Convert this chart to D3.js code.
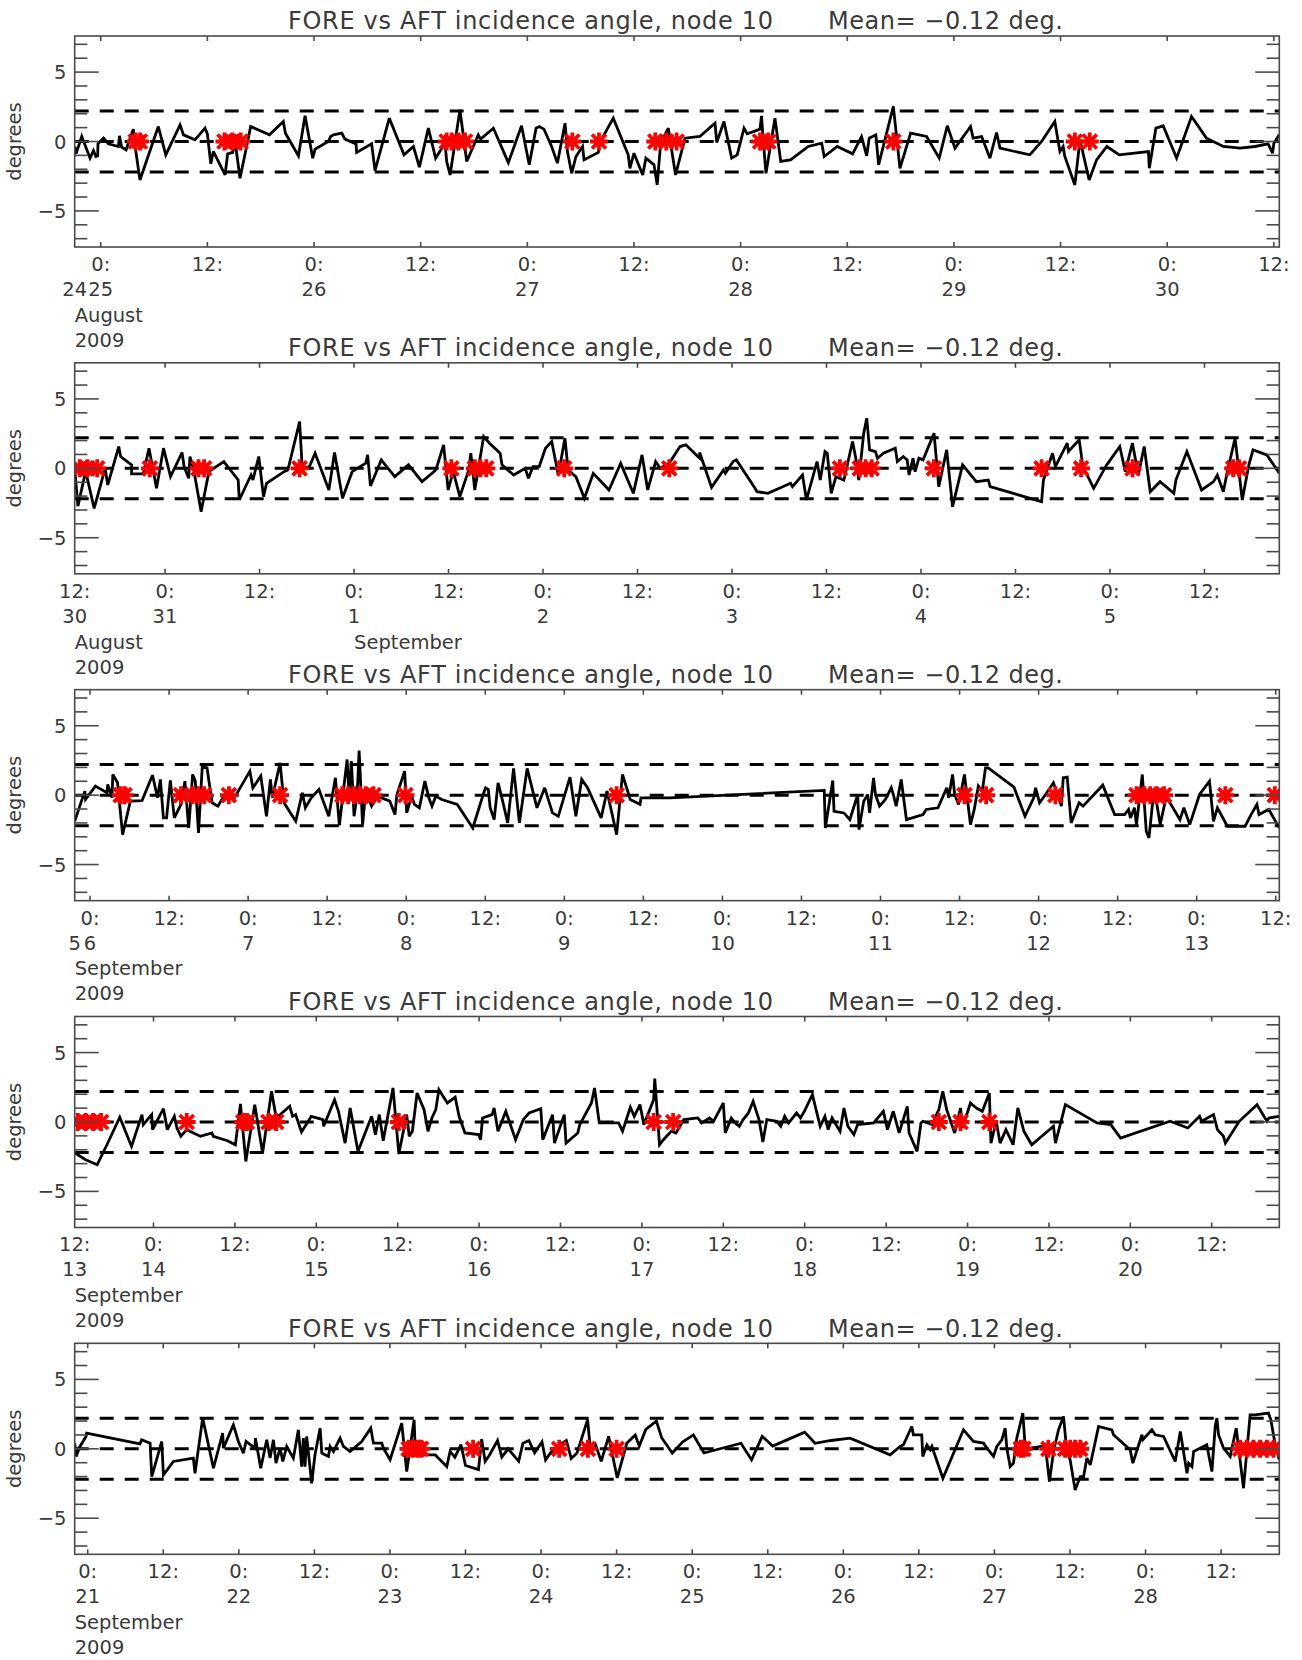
<!DOCTYPE html>
<html><head><meta charset="utf-8">
<script src="https://cdn.jsdelivr.net/npm/d3@7"></script>
<style>body{margin:0;background:#fff}svg{display:block}</style>
</head><body><svg id="c" width="1302" height="1660"></svg>
<script>
// ---------------- DATA ----------------
const titleText = "FORE vs AFT incidence angle, node 10";
const meanText = "Mean= \u22120.12 deg.";
const yLabel = "degrees";
const yDomain = [-7.6, 7.6];
const yMajorTicks = [-5, 0, 5];
const yMinorTicks = [-7, -6, -4, -3, -2, -1, 1, 2, 3, 4, 6, 7];
const limitLines = [-2.2, 0, 2.2];
// time axis: decimal day number, day 1 = 1 Aug 2009 00:00 UTC (31 = 31 Aug, 32 = 1 Sep)
const panelRanges = [[24.878, 30.5255], [30.522, 36.896], [36.903, 44.5225], [44.516, 51.915], [51.914, 59.885]];
const leftHourLabels = [null, "12:", null, "12:", null];
const leftDayLabels = ["24", "30", "5", "13", null];
const monthLabels = [[["August", null]], [["August", null], ["September", 32]], [["September", null]], [["September", null]], [["September", null]]];
const yearLabel = "2009";

const lineP1 = [[24.878,-0.36],[24.884,-0.89],[24.911,0.36],[24.950,-1.20],[24.966,-0.65],[24.977,-1.08],[24.986,-1.03],[24.987,-0.17],[25.013,0.24],[25.036,-0.17],[25.083,-0.36],[25.088,0.41],[25.098,-0.41],[25.119,-0.60],[25.153,0.89],[25.158,0],[25.184,-2.77],[25.270,1.08],[25.305,-0.96],[25.372,1.20],[25.388,0.48],[25.442,0.12],[25.489,0.96],[25.500,0.55],[25.516,-1.61],[25.528,-0.72],[25.583,-2.41],[25.595,-0.89],[25.619,-0.79],[25.630,0],[25.653,-2.65],[25.684,-0.36],[25.703,1.08],[25.791,0.48],[25.856,1.44],[25.866,0.60],[25.927,-1.03],[25.958,1.85],[25.994,-1.20],[26.005,-0.55],[26.067,0],[26.078,0.36],[26.091,0.48],[26.130,0.60],[26.145,0.17],[26.197,-0.17],[26.200,-0.79],[26.270,-0.17],[26.286,-2.09],[26.353,1.68],[26.422,-0.96],[26.466,-0.36],[26.494,-1.85],[26.536,0.96],[26.570,-1.20],[26.614,-0.12],[26.622,-1.44],[26.638,-2.41],[26.684,2.29],[26.716,-1.44],[26.770,0.48],[26.781,0.17],[26.841,0.96],[26.911,-1.52],[26.973,1.13],[27.009,-1.68],[27.041,0.96],[27.056,1.08],[27.078,0.89],[27.114,-0.36],[27.141,-1.56],[27.177,1.32],[27.188,-0.72],[27.208,-2.29],[27.228,-1.08],[27.259,-0.36],[27.266,-1.32],[27.333,-0.79],[27.338,-0.12],[27.403,1.68],[27.473,-0.96],[27.481,-1.93],[27.500,-0.84],[27.541,-2.41],[27.556,-1.20],[27.594,-1.68],[27.609,-3.13],[27.625,-0.12],[27.661,0.96],[27.695,-2.41],[27.739,0.24],[27.809,0.36],[27.880,1.32],[27.888,-0.07],[27.922,1.44],[27.958,-1.20],[27.984,-0.96],[28.016,0.96],[28.031,0.55],[28.091,0.89],[28.098,1.85],[28.106,0.07],[28.119,-2.29],[28.161,1.68],[28.188,-1.44],[28.234,-1.32],[28.317,-0.36],[28.380,-0.12],[28.392,-1.08],[28.453,-0.36],[28.525,-0.89],[28.567,0.36],[28.591,-1.03],[28.603,0.24],[28.634,0.48],[28.647,-1.68],[28.716,2.53],[28.747,-1.93],[28.797,0.60],[28.872,0.36],[28.931,-1.20],[28.969,1.13],[29.005,-0.48],[29.078,1.08],[29.090,0.24],[29.130,0.36],[29.169,-1.20],[29.200,0.65],[29.216,-0.48],[29.286,-0.72],[29.356,-0.96],[29.411,0],[29.473,1.44],[29.497,-0.72],[29.512,-0.36],[29.520,-1.08],[29.567,-3.13],[29.591,0.12],[29.634,-2.77],[29.669,-1.32],[29.717,-0.36],[29.775,-0.96],[29.912,-0.72],[29.916,-1.93],[29.947,0.96],[29.981,1.13],[30.044,-1.20],[30.114,1.80],[30.184,0.24],[30.263,-0.36],[30.341,-0.48],[30.411,-0.36],[30.473,-0.17],[30.494,-0.84],[30.500,-0.12],[30.525,0.48]];
const flagsP1 = [25.164,25.184,25.580,25.617,25.656,26.622,26.645,26.677,26.708,27.211,27.336,27.600,27.651,27.700,28.091,28.130,28.716,29.567,29.637];

const lineP2 = [[30.522,0],[30.539,-2.72],[30.580,-0.2],[30.625,-2.89],[30.683,0],[30.697,-1.2],[30.755,1.57],[30.765,0.85],[30.823,0.25],[30.823,-0.4],[30.885,-0.4],[30.915,1.45],[30.955,-1.44],[30.992,1.45],[31.029,-0.6],[31.09,1.14],[31.101,0.13],[31.125,-0.72],[31.132,0.85],[31.152,-0.12],[31.191,-3.12],[31.232,-0.24],[31.311,0.49],[31.387,-0.84],[31.393,-2.28],[31.455,-0.48],[31.465,-0.84],[31.496,0.85],[31.521,-2.04],[31.537,-1.08],[31.630,-0.24],[31.650,-0.12],[31.712,3.37],[31.726,0],[31.764,0.13],[31.794,1.09],[31.867,-1.56],[31.897,1.14],[31.939,-2.16],[31.990,-0.24],[32.062,0.37],[32.072,0.97],[32.087,-1.27],[32.144,0.61],[32.216,-0.6],[32.288,0.25],[32.360,-0.96],[32.433,-0.12],[32.474,1.69],[32.498,-1.56],[32.525,-0.24],[32.560,-2.04],[32.607,-0.12],[32.618,1.09],[32.639,-1.56],[32.686,2.29],[32.717,1.81],[32.773,1.09],[32.783,0.25],[32.845,-0.48],[32.906,0],[32.923,-0.72],[32.947,0.13],[32.98,0.13],[33.013,1.45],[33.046,1.93],[33.081,-0.48],[33.116,2.17],[33.133,-0.12],[33.174,-0.6],[33.219,-2.16],[33.266,-0.36],[33.349,-1.56],[33.411,0.36],[33.478,-1.8],[33.524,0.97],[33.554,-1.56],[33.596,0.49],[33.62,0],[33.668,0.37],[33.725,1.57],[33.756,1.69],[33.819,0.85],[33.829,0.73],[33.829,1.14],[33.892,-1.37],[33.955,-0.12],[33.965,-0.36],[34.006,0.49],[34.023,0.61],[34.122,-1.44],[34.132,-1.68],[34.190,-1.8],[34.310,-1.08],[34.320,-1.32],[34.373,-0.48],[34.394,-2.28],[34.450,0.49],[34.467,-0.84],[34.492,1.21],[34.504,1.09],[34.525,-1.8],[34.550,-0.6],[34.592,-0.84],[34.638,1.93],[34.655,0.73],[34.671,-0.84],[34.697,2.53],[34.713,3.61],[34.728,1.33],[34.759,1.21],[34.770,0.73],[34.801,1.09],[34.864,1.45],[34.875,0.49],[34.906,0.85],[34.927,0.61],[34.937,-0.48],[34.958,0.73],[34.969,-0.24],[34.989,0.73],[35.011,0.61],[35.069,2.53],[35.094,-1.32],[35.136,1.33],[35.167,-2.77],[35.220,0.25],[35.293,-0.96],[35.356,-0.84],[35.366,-1.32],[35.638,-2.4],[35.648,-0.84],[35.696,1.09],[35.711,0.13],[35.774,1.81],[35.780,1.21],[35.837,2.05],[35.857,0.13],[35.914,-1.44],[35.972,0.0],[35.983,0.25],[36.052,1.57],[36.081,-0.24],[36.119,1.81],[36.150,-0.48],[36.181,1.57],[36.213,-1.68],[36.265,-0.96],[36.338,-1.8],[36.349,-0.84],[36.407,1.21],[36.485,-1.56],[36.548,-0.96],[36.568,-0.48],[36.600,-1.68],[36.621,-0.24],[36.662,2.17],[36.700,-2.28],[36.735,0.25],[36.757,1.33],[36.830,0.97],[36.896,-0.36]];
const flagsP2 = [30.549,30.590,30.641,30.920,31.177,31.207,31.712,32.515,32.639,32.669,32.700,33.112,33.668,34.571,34.676,34.707,34.739,35.068,35.638,35.847,36.119,36.652,36.683];

const lineP3 = [[36.903,-1.88],[36.935,-0.79],[36.967,0.29],[36.972,-0.3],[37.034,0.65],[37.107,0.17],[37.112,0.77],[37.139,-0.19],[37.144,1.49],[37.174,0.89],[37.206,-2.84],[37.255,-0.43],[37.329,-0.39],[37.395,1.44],[37.427,-0.19],[37.445,1.13],[37.464,-1.64],[37.484,-1.64],[37.508,1.06],[37.533,-1.64],[37.575,-0.67],[37.600,1.01],[37.624,-2.36],[37.649,1.49],[37.666,1.01],[37.686,-2.72],[37.710,2.09],[37.740,1.97],[37.772,-0.55],[37.809,-0.79],[37.858,0.17],[37.882,0.41],[37.907,-0.31],[37.956,0.65],[38.011,1.73],[38.030,0.53],[38.080,1.37],[38.116,-1.52],[38.141,1.13],[38.153,-0.19],[38.202,2.33],[38.227,-0.55],[38.301,-1.88],[38.343,0.17],[38.362,-0.91],[38.399,-0.19],[38.448,0.41],[38.510,-1.52],[38.552,1.25],[38.577,-2.17],[38.626,2.57],[38.638,0.05],[38.653,2.45],[38.670,-1.52],[38.690,0.05],[38.702,3.22],[38.724,-2.12],[38.744,0.29],[38.781,-0.79],[38.818,-0.07],[38.896,-0.43],[38.929,-1.40],[38.941,0.05],[38.990,1.73],[39.003,-1.28],[39.034,-0.07],[39.052,-0.67],[39.083,-0.91],[39.118,1.01],[39.143,-0.19],[39.163,-0.79],[39.187,-0.07],[39.224,-0.31],[39.323,-0.67],[39.421,-2.36],[39.487,0.05],[39.502,0.53],[39.519,0.41],[39.531,-0.91],[39.556,-1.76],[39.581,0.89],[39.605,-0.19],[39.642,-2.0],[39.679,1.93],[39.716,-2.0],[39.765,1.93],[39.827,-0.91],[39.876,0.53],[39.925,-1.28],[39.962,-1.52],[40.036,1.30],[40.073,-1.52],[40.110,1.13],[40.147,0.53],[40.233,-1.64],[40.270,0.29],[40.331,-2.84],[40.368,1.49],[40.417,-0.31],[40.479,-0.67],[40.485,-0.19],[40.669,-0.19],[41.644,0.34],[41.651,-2.36],[41.698,1.06],[41.706,-1.16],[41.769,-1.28],[41.806,-1.76],[41.856,0.05],[41.864,-2.48],[41.894,-0.43],[41.919,0.05],[41.931,-1.28],[41.956,1.25],[41.968,0.05],[41.994,-0.79],[42.031,-0.31],[42.068,0.53],[42.081,0.05],[42.099,-0.79],[42.131,1.13],[42.164,-1.76],[42.269,-1.40],[42.289,-1.03],[42.364,-0.91],[42.419,0.53],[42.431,-0.19],[42.456,1.49],[42.469,0.05],[42.494,-0.67],[42.531,1.49],[42.569,-2.12],[42.593,-1.03],[42.619,0.65],[42.644,0.29],[42.664,1.97],[42.681,1.97],[42.844,0.58],[42.914,-1.52],[42.969,-0.19],[42.981,0.53],[43.006,-0.55],[43.044,0.05],[43.094,0.89],[43.144,-0.79],[43.156,1.25],[43.181,1.30],[43.206,-2.0],[43.256,-0.55],[43.281,-0.79],[43.406,0.72],[43.481,-1.40],[43.544,-1.40],[43.569,-1.03],[43.581,-1.64],[43.606,-0.91],[43.619,-2.12],[43.656,1.49],[43.681,-2.6],[43.698,-3.08],[43.731,0.53],[43.769,-2.12],[43.806,-0.19],[43.831,-0.55],[43.894,-1.76],[43.919,-0.91],[43.956,-2.12],[44.018,0.05],[44.081,1.01],[44.106,-1.88],[44.131,-0.91],[44.194,-2.24],[44.306,-2.24],[44.344,-1.40],[44.381,-0.67],[44.394,-1.40],[44.456,-1.03],[44.5225,-2.36]];
const flagsP3 = [37.194,37.218,37.575,37.649,37.686,37.722,37.878,38.202,38.596,38.633,38.670,38.707,38.744,38.793,38.995,40.331,42.531,42.668,43.106,43.619,43.669,43.706,43.744,43.794,44.181,44.494];

const lineP4 = [[44.516,-2.24],[44.535,-2.36],[44.583,-2.72],[44.654,-3.08],[44.714,-1.64],[44.793,0.34],[44.865,-1.76],[44.929,0.53],[44.937,-0.19],[44.989,0.53],[44.994,-0.55],[45.061,0.96],[45.085,-0.55],[45.128,0.41],[45.144,-0.43],[45.168,-1.03],[45.204,-0.55],[45.288,-1.03],[45.359,-0.79],[45.367,-1.03],[45.455,-1.35],[45.503,-1.64],[45.534,1.30],[45.567,-2.84],[45.622,1.25],[45.670,-2.24],[45.725,2.21],[45.754,0.29],[45.837,1.13],[45.854,0.41],[45.873,0.53],[45.909,-0.72],[45.969,0.41],[46.041,0.17],[46.045,-0.31],[46.112,1.61],[46.136,0.77],[46.177,-1.52],[46.208,1.01],[46.256,-2.12],[46.340,0.41],[46.363,-0.91],[46.387,0.53],[46.411,-1.35],[46.471,2.45],[46.507,-2.31],[46.555,0.53],[46.571,-1.03],[46.590,-0.67],[46.619,2.09],[46.662,0.89],[46.686,-0.67],[46.710,0.29],[46.734,0.89],[46.753,2.33],[46.805,1.37],[46.853,1.78],[46.877,0.41],[46.913,-0.79],[46.997,-0.91],[47.009,-1.28],[47.021,0.29],[47.080,0.53],[47.092,1.01],[47.116,-0.67],[47.164,0.77],[47.224,-1.28],[47.271,0.17],[47.307,0.65],[47.379,0.96],[47.391,-1.28],[47.451,0.53],[47.463,-1.52],[47.523,0.53],[47.534,-1.52],[47.606,-0.79],[47.618,-0.19],[47.690,1.37],[47.709,2.45],[47.738,-0.07],[47.857,-0.07],[47.881,-0.67],[47.929,1.06],[47.953,0.41],[47.988,1.25],[48.012,-0.19],[48.072,1.61],[48.079,3.13],[48.108,-1.64],[48.132,-1.28],[48.180,-0.67],[48.209,-0.79],[48.257,0.17],[48.343,0.29],[48.367,-0.07],[48.415,0.29],[48.440,0.05],[48.500,1.37],[48.512,-0.79],[48.549,0.29],[48.573,-0.07],[48.598,-0.31],[48.622,0.17],[48.654,0.65],[48.683,1.49],[48.719,0.17],[48.743,-1.44],[48.767,0.17],[48.828,0.05],[48.853,-0.31],[48.877,0.41],[48.901,-0.07],[48.950,0.65],[48.974,0.29],[48.998,0.77],[49.047,1.97],[49.095,-0.31],[49.124,0.41],[49.144,-0.55],[49.168,0.29],[49.192,-0.19],[49.217,-0.67],[49.241,1.01],[49.265,-0.31],[49.302,-0.91],[49.325,-0.19],[49.423,-0.07],[49.483,0.77],[49.508,-0.55],[49.544,0.77],[49.580,-0.79],[49.630,1.13],[49.641,-0.79],[49.690,-2.12],[49.714,-0.07],[49.726,0.05],[49.787,-0.19],[49.799,0.29],[49.824,0.89],[49.848,2.21],[49.872,0.89],[49.921,-0.79],[49.957,1.01],[49.969,-0.43],[50.018,1.37],[50.054,1.01],[50.091,0.77],[50.134,2.09],[50.144,-1.52],[50.176,0.05],[50.200,-1.52],[50.236,-0.55],[50.280,-1.64],[50.309,1.01],[50.346,-0.67],[50.394,-1.64],[50.528,-0.31],[50.540,-1.52],[50.601,1.25],[50.795,-0.07],[50.880,-0.19],[50.940,-1.16],[51.244,0.05],[51.353,-0.43],[51.426,0.41],[51.438,0.05],[51.511,0.53],[51.535,-0.55],[51.572,-1.03],[51.584,-1.52],[51.669,0.05],[51.778,1.25],[51.839,0.05],[51.851,0.29],[51.915,0.41]];
const flagsP4 = [44.535,44.583,44.630,44.678,45.204,45.551,45.574,45.706,45.754,46.507,48.072,48.192,49.824,49.957,50.134];

const lineP5 = [[51.914,0.41],[51.923,-0.55],[51.949,0.17],[51.989,0.89],[51.993,1.13],[52.346,0.36],[52.357,0.65],[52.413,0.41],[52.424,-2.0],[52.490,0.53],[52.501,-1.88],[52.567,-0.91],[52.699,-0.67],[52.710,-1.76],[52.761,2.21],[52.832,-1.40],[52.893,1.13],[52.898,0.05],[52.964,1.73],[52.997,0.53],[53.030,-0.31],[53.048,0.53],[53.107,0.05],[53.110,0.77],[53.145,-1.40],[53.185,0.65],[53.207,-0.67],[53.229,0.65],[53.246,-1.03],[53.273,0.05],[53.291,-0.91],[53.317,0.17],[53.361,-0.67],[53.394,1.37],[53.416,-1.28],[53.427,0.77],[53.438,-1.28],[53.449,0.89],[53.482,-2.48],[53.504,-0.43],[53.538,1.49],[53.549,-0.31],[53.593,-0.55],[53.604,0.17],[53.626,-0.19],[53.670,0.77],[53.692,0.17],[53.736,-0.19],[53.813,0.53],[53.873,1.49],[53.891,0.41],[53.946,0.41],[53.957,0.05],[54.001,-0.79],[54.078,1.85],[54.111,-1.64],[54.160,2.09],[54.166,0.29],[54.188,-0.43],[54.299,-0.43],[54.376,-1.28],[54.398,-0.19],[54.43,-0.6],[54.47,0.3],[54.50,-1.2],[54.586,-1.5],[54.607,0.7],[54.63,-0.9],[54.656,-0.5],[54.712,0.6],[54.74,-0.6],[54.782,0],[54.852,-0.9],[54.88,0.4],[54.92,0.6],[54.957,-0.3],[55.006,0.5],[55.03,-0.8],[55.062,-0.3],[55.111,0.2],[55.167,0.6],[55.20,-0.7],[55.238,-0.3],[55.308,2.1],[55.328,-0.3],[55.36,0.3],[55.398,-0.9],[55.447,0.9],[55.504,-2.1],[55.567,0.4],[55.623,1.0],[55.65,0.2],[55.693,1.4],[55.763,2.0],[55.798,0.8],[55.868,-0.3],[55.938,0.5],[56.008,1.0],[56.078,-0.3],[56.323,0.4],[56.393,-0.8],[56.463,0.9],[56.533,0.2],[56.639,0.7],[56.744,1.2],[56.813,0.4],[56.919,0.6],[57.045,0.77],[57.310,-0.43],[57.376,0.17],[57.398,0.29],[57.453,1.61],[57.464,1.01],[57.519,1.01],[57.526,-0.55],[57.553,0.29],[57.575,-0.07],[57.586,0.17],[57.659,-2.12],[57.795,1.37],[57.861,0.53],[57.928,0.41],[57.950,0.05],[57.994,-0.55],[58.016,0.17],[58.049,0.65],[58.071,1.49],[58.082,0.05],[58.104,-1.28],[58.126,-1.03],[58.148,0.77],[58.188,2.58],[58.203,0.17],[58.237,0.05],[58.314,0.17],[58.336,0.29],[58.364,-2.36],[58.391,-0.19],[58.424,1.37],[58.457,2.33],[58.479,-0.19],[58.501,-0.79],[58.534,-2.96],[58.568,-2.0],[58.590,-2.0],[58.612,-0.67],[58.634,-1.16],[58.689,1.61],[58.777,1.37],[58.788,1.01],[58.898,-0.07],[58.916,-1.03],[58.976,1.01],[58.982,0.65],[59.042,1.37],[59.064,1.01],[59.119,0.89],[59.196,-0.91],[59.230,1.25],[59.274,-1.76],[59.285,-1.03],[59.307,-1.28],[59.318,-0.19],[59.405,0.29],[59.439,-1.64],[59.461,1.61],[59.472,2.21],[59.483,1.01],[59.516,0.05],[59.560,-0.55],[59.600,1.49],[59.648,-2.84],[59.692,2.45],[59.726,2.45],[59.813,2.58],[59.829,2.09],[59.858,0.29],[59.885,-0.79]];
const flagsP5 = [54.124,54.151,54.184,54.206,54.55,55.12,55.31,55.50,58.174,58.192,58.357,58.468,58.501,58.534,58.568,59.626,59.670,59.714,59.758,59.803,59.847];

const lines = [lineP1, lineP2, lineP3, lineP4, lineP5];
const flags = [flagsP1, flagsP2, flagsP3, flagsP4, flagsP5];

// ---------------- DRAW ----------------
const DAY = 86400000;
const T0 = Date.UTC(2009, 7, 1);
const toDate = d => new Date(T0 + (d - 1) * DAY);

const L = 74.7, R = 1279.3, BOX_H = 211, TOP0 = 36, STEP = 326.83;
const FONT = "'DejaVu Sans', sans-serif";
const TXT = "#3a3a3a", AX = "#4a4a4a";

const svg = d3.select("#c");
svg.append("rect").attr("width", 1302).attr("height", 1660).attr("fill", "#fff");

lines.forEach((data, i) => {
  const top = TOP0 + i * STEP, bottom = top + BOX_H;
  const x = d3.scaleUtc().domain(panelRanges[i].map(toDate)).range([L, R]);
  const y = d3.scaleLinear().domain(yDomain).range([bottom, top]);
  const g = svg.append("g");

  const clipId = "clip" + i;
  svg.append("clipPath").attr("id", clipId).append("rect")
    .attr("x", L).attr("y", top).attr("width", R - L).attr("height", BOX_H);

  // title
  g.append("text").attr("x", 288).attr("y", top - 6.7).attr("font-family", FONT).attr("font-size", 24)
    .attr("fill", TXT).attr("textLength", 485).attr("lengthAdjust", "spacing").text(titleText);
  g.append("text").attr("x", 828).attr("y", top - 6.7).attr("font-family", FONT).attr("font-size", 24)
    .attr("fill", TXT).attr("textLength", 235).attr("lengthAdjust", "spacing").text(meanText);

  const plot = g.append("g").attr("clip-path", `url(#${clipId})`);
  // dashed reference lines
  limitLines.forEach(v => {
    plot.append("line").attr("x1", L).attr("x2", R).attr("y1", y(v)).attr("y2", y(v))
      .attr("stroke", "#000").attr("stroke-width", 3).attr("stroke-dasharray", "14,11");
  });
  // data line
  const lineGen = d3.line().x(d => x(toDate(d[0]))).y(d => y(d[1]));
  plot.append("path").datum(data).attr("d", lineGen).attr("fill", "none")
    .attr("stroke", "#000").attr("stroke-width", 2.8)
    .attr("stroke-linejoin", "miter").attr("stroke-miterlimit", 3);
  // flagged points (asterisks)
  const ast = "M-9,0H9M0,-9V9M-7,-7L7,7M-7,7L7,-7";
  plot.selectAll(null).data(flags[i]).enter().append("path")
    .attr("transform", d => `translate(${x(toDate(d))},${y(0)})`)
    .attr("d", ast).attr("stroke", "#ff0000").attr("stroke-width", 3.8).attr("fill", "none");

  // box
  g.append("rect").attr("x", L).attr("y", top).attr("width", R - L).attr("height", BOX_H)
    .attr("fill", "none").attr("stroke", AX).attr("stroke-width", 1.6);

  // y ticks
  const yt = yMajorTicks.map(v => [v, 24]).concat(yMinorTicks.map(v => [v, 12.7]));
  yt.forEach(([v, len]) => {
    g.append("line").attr("x1", L).attr("x2", L + len).attr("y1", y(v)).attr("y2", y(v)).attr("stroke", AX).attr("stroke-width", 1.6);
    g.append("line").attr("x1", R - len).attr("x2", R).attr("y1", y(v)).attr("y2", y(v)).attr("stroke", AX).attr("stroke-width", 1.6);
  });
  yMajorTicks.forEach(v => {
    g.append("text").attr("x", 66.5).attr("y", y(v) + 7).attr("text-anchor", "end")
      .attr("font-family", FONT).attr("font-size", 19.5).attr("fill", TXT)
      .text(v < 0 ? "\u2212" + Math.abs(v) : String(v));
  });
  g.append("text").attr("transform", `translate(21,${(top + bottom) / 2}) rotate(-90)`)
    .attr("text-anchor", "middle").attr("font-family", FONT).attr("font-size", 19.5).attr("fill", TXT).text(yLabel);

  // x ticks
  const ticks = x.ticks(d3.utcHour.every(12)).filter(t => x(t) >= L - 0.5 && x(t) <= R + 0.5);
  ticks.forEach(t => {
    const px = x(t);
    g.append("line").attr("x1", px).attr("x2", px).attr("y1", bottom).attr("y2", bottom - 5).attr("stroke", AX).attr("stroke-width", 1.6);
    g.append("line").attr("x1", px).attr("x2", px).attr("y1", top).attr("y2", top + 5).attr("stroke", AX).attr("stroke-width", 1.6);
    const h = t.getUTCHours();
    g.append("text").attr("x", px).attr("y", bottom + 24).attr("text-anchor", "middle")
      .attr("font-family", FONT).attr("font-size", 19.5).attr("fill", TXT).text(h + ":");
    if (h === 0) {
      g.append("text").attr("x", px).attr("y", bottom + 49).attr("text-anchor", "middle")
        .attr("font-family", FONT).attr("font-size", 19.5).attr("fill", TXT).text(String(t.getUTCDate()));
    }
  });
  if (leftHourLabels[i]) g.append("text").attr("x", L).attr("y", bottom + 24).attr("text-anchor", "middle")
      .attr("font-family", FONT).attr("font-size", 19.5).attr("fill", TXT).text(leftHourLabels[i]);
  if (leftDayLabels[i]) g.append("text").attr("x", L).attr("y", bottom + 49).attr("text-anchor", "middle")
      .attr("font-family", FONT).attr("font-size", 19.5).attr("fill", TXT).text(leftDayLabels[i]);
  monthLabels[i].forEach(([name, day]) => {
    const px = day == null ? L : x(toDate(day));
    g.append("text").attr("x", px).attr("y", bottom + 74.7).attr("font-family", FONT)
      .attr("font-size", 19.5).attr("fill", TXT).text(name);
  });
  g.append("text").attr("x", L).attr("y", bottom + 99.7).attr("font-family", FONT)
    .attr("font-size", 19.5).attr("fill", TXT).text(yearLabel);
});
</script></body></html>
